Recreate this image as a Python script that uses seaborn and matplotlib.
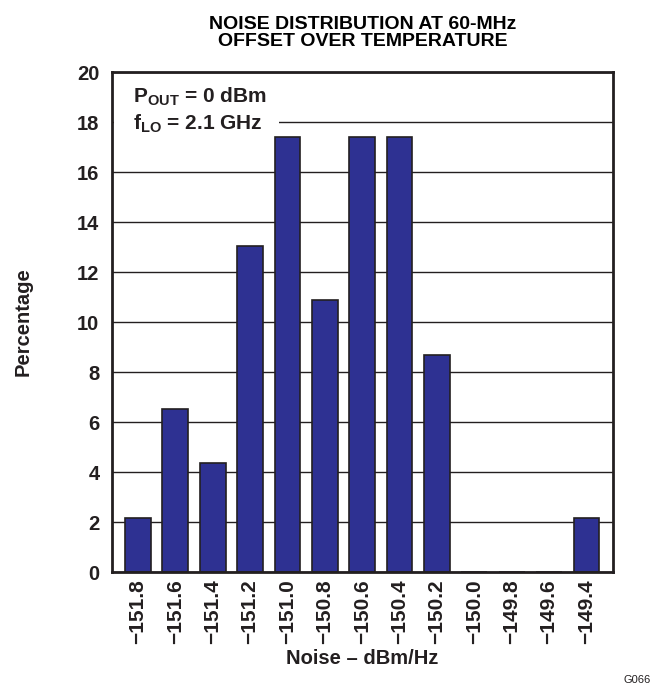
import matplotlib
matplotlib.use("Agg")
import matplotlib.pyplot as plt
import matplotlib.patches as mpatches
import seaborn as sns
import pandas as pd

# Data
noise_bins = ["−151.8", "−151.6", "−151.4", "−151.2", "−151.0", "−150.8", "−150.6",
              "−150.4", "−150.2", "−150.0", "−149.8", "−149.6", "−149.4"]
percentage = [2.17, 6.52, 4.35, 13.04, 17.39, 10.87, 17.39, 17.39, 8.70, 0, 0, 0, 2.17]

df = pd.DataFrame({"noise": noise_bins, "pct": percentage})

sns.set_style("white")
plt.rcParams["font.family"] = ["Liberation Sans", "DejaVu Sans"]
plt.rcParams["font.weight"] = "bold"
plt.rcParams["mathtext.default"] = "regular"

ink = "#231F20"
bar_color = "#2E3192"

fig = plt.figure(figsize=(6.52, 6.94), dpi=100)
ax = fig.add_axes([112 / 652, 1 - 572 / 694, 501 / 652, 500 / 694])

# grid behind bars
ax.set_axisbelow(True)
ax.yaxis.grid(True, color=ink, linewidth=1.0)
ax.xaxis.grid(False)

sns.barplot(data=df, x="noise", y="pct", order=noise_bins, color=bar_color,
            saturation=1, width=0.69, edgecolor=ink, linewidth=1.2, ax=ax)

ax.set_xlim(-0.695, 12.71)
ax.set_ylim(0, 20)
ax.set_yticks(range(0, 21, 2))
ax.tick_params(axis="both", length=0, colors=ink)
ax.tick_params(axis="y", pad=9, labelsize=14.5)
ax.tick_params(axis="x", pad=5, labelsize=15)
for lab in ax.get_xticklabels():
    lab.set_rotation(90)
    lab.set_fontweight("bold")
for lab in ax.get_yticklabels():
    lab.set_fontweight("bold")

for s in ax.spines.values():
    s.set_color(ink)
    s.set_linewidth(2)

ax.set_xlabel("Noise – dBm/Hz", fontsize=14.5, fontweight="bold", color=ink)
ax.set_ylabel("Percentage", fontsize=14.5, fontweight="bold", color=ink)
ax.xaxis.set_label_coords(0.5, -0.155)
ax.yaxis.set_label_coords(-0.158, 0.5)

ax.set_title("NOISE DISTRIBUTION AT 60-MHz\nOFFSET OVER TEMPERATURE",
             fontsize=14, fontweight="bold", color="black", pad=19, linespacing=1.0)

# white panel behind the condition text
ax.add_patch(mpatches.Rectangle((0.004, 0.872), 0.33, 0.124, transform=ax.transAxes,
                                facecolor="white", edgecolor="none", zorder=2))
ax.text(0.042, 0.973, "P$_{OUT}$ = 0 dBm\nf$_{LO}$ = 2.1 GHz",
        transform=ax.transAxes, ha="left", va="top", fontsize=15, fontweight="bold",
        color=ink, linespacing=1.3, zorder=3)

fig.text(623 / 652, 1 - 680 / 694, "G066", fontsize=8, fontweight="normal",
         color=ink, ha="left", va="center")

fig.savefig("out.png", dpi=100)
